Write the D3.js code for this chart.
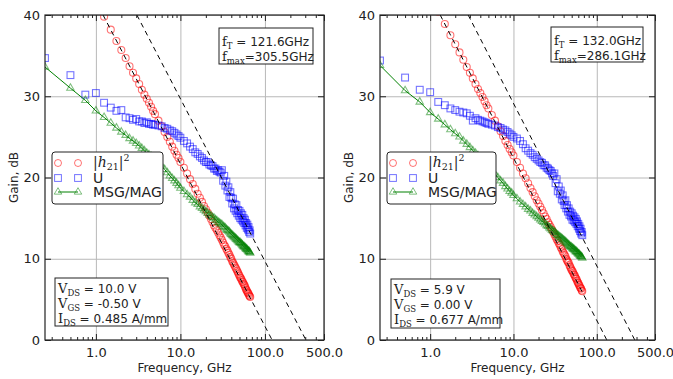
<!DOCTYPE html>
<html>
<head>
<meta charset="utf-8">
<script src="https://cdn.jsdelivr.net/npm/d3@7"></script>
<style>
  body { margin: 0; background: #fff; }
  svg { display: block; font-family: "DejaVu Sans", sans-serif; }
</style>
</head>
<body>
<svg id="chart" width="673" height="379"></svg>
<script>
// frequency sweep, GHz
const freq = [0.25, 0.5, 0.75, 1, 1.25, 1.5, 1.75, 2, 2.25, 2.5, 2.75, 3, 3.25, 3.5, 3.75, 4, 4.25, 4.5, 4.75, 5,
  5.5, 6, 6.5, 7, 7.5, 8, 8.5, 9, 9.5, 10,
  11, 12, 13, 14, 15, 16, 17, 18, 19, 20, 21, 22, 23, 24, 25, 26, 27, 28, 29, 30,
  31, 32, 33, 34, 35, 36, 37, 38, 39, 40, 41, 42, 43, 44, 45, 46, 47, 48, 49, 50,
  51, 52, 53, 54, 55, 56, 57, 58, 59, 60, 61, 62, 63, 64, 65, 66, 67];

// left device (VDS 10 V)
const leftH21 = [null, null, null, null, 39.8, 38.2, 36.8, 35.7, 34.7, 33.7, 32.9, 32.2, 31.5, 30.8, 30.2, 29.7, 29.2, 28.7, 28.2, 27.8,
  27.0, 26.3, 25.6, 25.0, 24.4, 23.8, 23.3, 22.8, 22.4, 21.9,
  21.2, 20.5, 19.8, 19.2, 18.6, 18.0, 17.5, 17.0, 16.5, 16.1, 15.7, 15.3, 14.9, 14.5, 14.1, 13.8, 13.5, 13.2, 12.9, 12.6,
  12.3, 12.0, 11.7, 11.5, 11.2, 11.0, 10.7, 10.5, 10.2, 10.0, 9.7, 9.5, 9.3, 9.1, 8.9, 8.7, 8.5, 8.3, 8.1, 7.9,
  7.7, 7.6, 7.4, 7.2, 7.1, 6.9, 6.8, 6.6, 6.4, 6.2, 6.1, 5.9, 5.8, 5.7, 5.5, 5.4, 5.3];
const leftU = [34.7, 32.6, 30.2, 30.4, 29.2, 28.6, 28.2, 28.3, 27.4, 27.3, 27.1, 27.2, 26.9, 26.9, 26.7, 26.8, 26.6, 26.6, 26.5, 26.5,
  26.4, 26.3, 26.1, 26.0, 25.8, 25.7, 25.5, 25.3, 25.1, 24.9,
  24.5, 24.2, 23.8, 23.5, 23.1, 22.9, 22.6, 22.4, 22.1, 21.9, 21.9, 21.6, 21.5, 21.4, 21.1, 21.1, 20.8, 20.9, 20.7, 20.6,
  20.9, 19.6, 20.2, 19.0, 19.5, 18.4, 18.8, 17.6, 18.2, 17.5, 16.8, 17.4, 16.2, 16.7, 15.9, 16.6, 15.6, 16.0, 15.3, 15.9,
  15.0, 15.6, 14.8, 15.4, 14.6, 15.0, 14.4, 14.8, 14.1, 14.4, 13.8, 14.2, 13.6, 13.9, 13.3, 13.5, 13.1];
const leftMSG = [33.6, 31.0, 29.5, 28.2, 27.4, 26.7, 26.1, 25.6, 25.2, 24.8, 24.5, 24.2, 23.9, 23.6, 23.3, 23.0, 22.8, 22.6, 22.4, 22.2,
  21.8, 21.4, 21.0, 20.6, 20.2, 19.9, 19.6, 19.3, 19.0, 18.7,
  18.3, 17.9, 17.6, 17.2, 16.9, 16.7, 16.4, 16.2, 16.0, 15.8, 15.6, 15.4, 15.3, 15.1, 15.0, 14.8, 14.7, 14.5, 14.4, 14.3,
  14.2, 14.0, 13.9, 13.8, 13.6, 13.5, 13.4, 13.3, 13.1, 13.0, 12.9, 12.8, 12.7, 12.6, 12.5, 12.4, 12.3, 12.2, 12.1, 12.0,
  12.0, 11.9, 11.8, 11.7, 11.6, 11.5, 11.5, 11.4, 11.3, 11.2, 11.2, 11.1, 11.0, 10.9, 10.9, 10.8, 10.7];
const leftCutoff = [121.6, 305.5];           // fT, fmax
const leftBias = ['10.0 V', '-0.50 V', '0.485 A/mm'];

// right device (VDS 5.9 V)
const rightH21 = [null, null, null, null, 40.4, 38.9, 37.5, 36.4, 35.4, 34.5, 33.6, 32.9, 32.2, 31.5, 30.9, 30.4, 29.9, 29.4, 28.9, 28.5,
  27.7, 27.0, 26.3, 25.7, 25.1, 24.5, 24.0, 23.5, 23.1, 22.7,
  21.9, 21.2, 20.5, 19.9, 19.3, 18.7, 18.2, 17.7, 17.2, 16.8, 16.4, 16.0, 15.6, 15.2, 14.9, 14.5, 14.2, 13.9, 13.6, 13.3,
  13.0, 12.7, 12.4, 12.2, 11.9, 11.7, 11.4, 11.2, 10.9, 10.7, 10.5, 10.3, 10.0, 9.8, 9.6, 9.5, 9.2, 9.0, 8.8, 8.6,
  8.5, 8.3, 8.1, 8.0, 7.8, 7.6, 7.5, 7.3, 7.1, 7.0, 6.8, 6.7, 6.5, 6.4, 6.3, 6.1, 6.0];
const rightU = [34.4, 32.3, 30.8, 30.5, 29.3, 28.9, 28.5, 28.3, 28.1, 28.0, 27.9, 27.6, 27.0, 27.3, 27.1, 27.0, 26.9, 26.8, 26.7, 26.6,
  26.5, 26.4, 26.2, 26.1, 25.9, 25.8, 25.6, 25.4, 25.2, 25.0,
  24.8, 24.5, 24.1, 23.6, 23.3, 23.0, 22.8, 22.5, 22.3, 22.1, 21.9, 21.8, 21.5, 21.5, 21.2, 21.1, 20.9, 20.8, 20.5, 20.2,
  20.5, 19.3, 19.8, 18.3, 18.9, 18.0, 18.4, 17.3, 17.8, 17.1, 16.6, 17.2, 16.2, 16.6, 15.8, 16.2, 15.4, 15.8, 15.2, 15.6,
  14.8, 15.3, 14.7, 15.1, 14.5, 14.9, 14.3, 14.6, 14.0, 14.3, 13.7, 14.0, 13.4, 13.7, 13.1, 13.3, 12.9];
const rightMSG = [33.8, 30.7, 29.3, 28.0, 27.2, 26.5, 25.9, 25.4, 25.0, 24.5, 24.1, 23.7, 23.3, 23.0, 22.7, 22.4, 22.1, 21.8, 21.5, 21.3,
  20.9, 20.4, 20.0, 19.6, 19.3, 18.9, 18.6, 18.3, 18.1, 17.8,
  17.4, 17.0, 16.7, 16.4, 16.1, 15.9, 15.6, 15.4, 15.2, 15.0, 14.8, 14.6, 14.5, 14.3, 14.1, 14.0, 13.8, 13.7, 13.5, 13.4,
  13.3, 13.2, 13.0, 12.9, 12.8, 12.7, 12.6, 12.5, 12.4, 12.3, 12.2, 12.1, 12.0, 11.9, 11.8, 11.7, 11.6, 11.5, 11.5, 11.4,
  11.3, 11.2, 11.2, 11.1, 11.0, 10.9, 10.9, 10.8, 10.7, 10.6, 10.6, 10.5, 10.4, 10.3, 10.3, 10.2, 10.1];
const rightCutoff = [132.0, 286.1];
const rightBias = ['5.9 V', '0.00 V', '0.677 A/mm'];

const xTicks = [1, 10, 100, 500];
const xTickLabels = ['1.0', '10.0', '100.0', '500.0'];
const yTicks = [0, 10, 20, 30, 40];
const seriesLabels = ['U', 'MSG/MAG'];

const minorTicks = [];
[0.1, 1, 10, 100].forEach(d => {
  for (let k = 2; k <= 9; k++) {
    const v = d * k;
    if (v > 0.25 && v < 500 && v !== 1 && v !== 10 && v !== 100) minorTicks.push(v);
  }
});

const red = '#ff0000', blue = '#0000ff', green = '#008000';
const svg = d3.select('#chart');

function subText(g, x, y, main, sub, rest) {
  const t = g.append('text').attr('x', x).attr('y', y).attr('dy', '0.35em');
  t.append('tspan').attr('font-family', 'DejaVu Serif').attr('font-size', 13).text(main);
  t.append('tspan').attr('font-family', 'DejaVu Serif').attr('font-size', 8.5).attr('dy', 3).text(sub);
  t.append('tspan').attr('font-size', 12).attr('dy', -3).text(rest);
}

function drawPanel(p) {
  const w = p.x1 - p.x0, h = p.y1 - p.y0;
  const g = svg.append('g').attr('transform', `translate(${p.x0},${p.y0})`);

  const x = d3.scaleLog().domain([0.25, 500]).range([0, w]);
  const y = d3.scaleLinear().domain([0, 40]).range([h, 0]);

  // grid
  g.append('g').attr('transform', `translate(0,${h})`)
    .call(d3.axisBottom(x).tickValues(xTicks).tickSize(-h).tickFormat(''))
    .call(a => a.select('.domain').remove())
    .selectAll('line').attr('stroke', '#b8b8b8');
  g.append('g')
    .call(d3.axisLeft(y).tickValues(yTicks).tickSize(-w).tickFormat(''))
    .call(a => a.select('.domain').remove())
    .selectAll('line').attr('stroke', '#b8b8b8');

  const clipId = 'clip' + p.id;
  g.append('clipPath').attr('id', clipId).append('rect').attr('width', w).attr('height', h);
  const plot = g.append('g').attr('clip-path', `url(#${clipId})`);

  const pts = vals => freq.map((f, i) => [f, vals[i]]).filter(d => d[1] != null);

  plot.append('g').selectAll('circle').data(pts(p.h21)).join('circle')
    .attr('cx', d => x(d[0])).attr('cy', d => y(d[1])).attr('r', 3.5)
    .attr('fill', 'none').attr('stroke', red).attr('stroke-opacity', 0.55).attr('stroke-width', 1.1);

  plot.append('g').selectAll('rect').data(pts(p.u)).join('rect')
    .attr('x', d => x(d[0]) - 3.4).attr('y', d => y(d[1]) - 3.4)
    .attr('width', 6.8).attr('height', 6.8)
    .attr('fill', 'none').attr('stroke', blue).attr('stroke-opacity', 0.55).attr('stroke-width', 1.1);

  plot.append('path').datum(pts(p.msg))
    .attr('d', d3.line().x(d => x(d[0])).y(d => y(d[1])))
    .attr('fill', 'none').attr('stroke', green).attr('stroke-width', 1);
  const tri = d3.symbol().type(d3.symbolTriangle).size(24);
  plot.append('g').selectAll('path').data(pts(p.msg)).join('path')
    .attr('d', tri).attr('transform', d => `translate(${x(d[0])},${y(d[1])})`)
    .attr('fill', 'none').attr('stroke', green).attr('stroke-opacity', 0.5).attr('stroke-width', 1.1);

  // -20 dB/dec extrapolations through fT and fmax
  p.cutoff.forEach(fc => {
    plot.append('path').datum([[fc / 100, 40], [fc, 0]])
      .attr('d', d3.line().x(d => x(d[0])).y(d => y(d[1])))
      .attr('fill', 'none').attr('stroke', '#000').attr('stroke-dasharray', '5,4');
  });

  // axes with inward ticks
  g.append('g').attr('transform', `translate(0,${h})`)
    .call(d3.axisBottom(x).tickValues(xTicks).tickSize(-6).tickSizeOuter(0).tickPadding(8)
      .tickFormat((d, i) => xTickLabels[i]));
  g.append('g').attr('transform', `translate(0,${h})`)
    .call(d3.axisBottom(x).tickValues(minorTicks).tickSize(-3).tickSizeOuter(0).tickFormat(''));
  g.append('g').call(d3.axisTop(x).tickValues(xTicks).tickSize(-6).tickSizeOuter(0).tickFormat(''));
  g.append('g').call(d3.axisTop(x).tickValues(minorTicks).tickSize(-3).tickSizeOuter(0).tickFormat(''));
  g.append('g')
    .call(d3.axisLeft(y).tickValues(yTicks).tickSize(-6).tickSizeOuter(0).tickPadding(5));
  g.append('g').attr('transform', `translate(${w},0)`)
    .call(d3.axisRight(y).tickValues(yTicks).tickSize(-6).tickSizeOuter(0).tickFormat(''));
  g.selectAll('.domain').remove();
  g.selectAll('.tick text').attr('font-size', 13).attr('font-family', 'DejaVu Sans').attr('fill', '#222');
  g.selectAll('.tick line').filter(function () { return this.getAttribute('stroke') === 'currentColor'; })
    .attr('stroke', '#222');

  g.append('rect').attr('width', w).attr('height', h)
    .attr('fill', 'none').attr('stroke', '#222').attr('stroke-width', 1.2);

  // axis titles
  svg.append('text').attr('x', (p.x0 + p.x1) / 2).attr('y', 372).attr('text-anchor', 'middle')
    .attr('font-size', 12).attr('fill', '#222').text('Frequency, GHz');
  svg.append('text').attr('transform', `translate(${p.yLabelX},${(p.y0 + p.y1) / 2}) rotate(-90)`)
    .attr('text-anchor', 'middle').attr('dy', '0.35em')
    .attr('font-size', 12).attr('fill', '#222').text('Gain, dB');

  // legend
  const L = p.legend;
  const lg = svg.append('g').attr('transform', `translate(${L.x},${L.y})`);
  lg.append('rect').attr('width', L.w).attr('height', L.h).attr('rx', 3)
    .attr('fill', '#fff').attr('stroke', '#222').attr('stroke-width', 1);
  const rows = [11, 26, 40];
  [6, 26].forEach(mx => {
    lg.append('circle').attr('cx', mx).attr('cy', rows[0]).attr('r', 3.5)
      .attr('fill', 'none').attr('stroke', red).attr('stroke-opacity', 0.55);
    lg.append('rect').attr('x', mx - 3.4).attr('y', rows[1] - 3.4).attr('width', 6.8).attr('height', 6.8)
      .attr('fill', 'none').attr('stroke', blue).attr('stroke-opacity', 0.55);
    lg.append('path').attr('d', tri).attr('transform', `translate(${mx},${rows[2]})`)
      .attr('fill', 'none').attr('stroke', green).attr('stroke-opacity', 0.5);
  });
  lg.append('line').attr('x1', 6).attr('x2', 26).attr('y1', rows[2]).attr('y2', rows[2])
    .attr('stroke', green);
  const ht = lg.append('text').attr('x', 41).attr('y', rows[0]).attr('dy', '0.3em')
    .attr('font-family', 'DejaVu Serif').attr('font-size', 14).attr('fill', '#222');
  ht.append('tspan').text('|');
  ht.append('tspan').attr('font-style', 'italic').text('h');
  ht.append('tspan').attr('font-size', 9.5).attr('dy', 3).text('21');
  ht.append('tspan').attr('dy', -3).text('|');
  ht.append('tspan').attr('font-size', 9.5).attr('dy', -6).text('2');
  seriesLabels.forEach((s, i) => {
    lg.append('text').attr('x', 41).attr('y', rows[i + 1]).attr('dy', '0.35em')
      .attr('font-size', 14).attr('fill', '#222').text(s);
  });

  // fT / fmax box
  const F = p.fBox;
  const fg = svg.append('g').attr('transform', `translate(${F.x},${F.y})`).attr('fill', '#222');
  fg.append('rect').attr('width', F.w).attr('height', F.h).attr('fill', '#fff').attr('stroke', '#222');
  subText(fg, 3, 12, 'f', 'T', ' = ' + p.cutoff[0].toFixed(1) + 'GHz');
  subText(fg, 3, 27, 'f', 'max', '=' + p.cutoff[1].toFixed(1) + 'GHz');

  // bias box
  const B = p.biasBox;
  const bg = svg.append('g').attr('transform', `translate(${B.x},${B.y})`).attr('fill', '#222');
  bg.append('rect').attr('width', B.w).attr('height', B.h).attr('fill', '#fff').attr('stroke', '#222');
  subText(bg, 3, 9, 'V', 'DS', ' = ' + p.bias[0]);
  subText(bg, 3, 24, 'V', 'GS', ' = ' + p.bias[1]);
  subText(bg, 3, 39, 'I', 'DS', ' = ' + p.bias[2]);
}

drawPanel({
  id: 'L', x0: 45, x1: 324, y0: 15, y1: 340, yLabelX: 14,
  h21: leftH21, u: leftU, msg: leftMSG, cutoff: leftCutoff, bias: leftBias,
  legend: { x: 52, y: 152, w: 111, h: 52 },
  fBox: { x: 219, y: 28, w: 94, h: 36 },
  biasBox: { x: 55, y: 278, w: 113, h: 48 }
});
drawPanel({
  id: 'R', x0: 380, x1: 655, y0: 15, y1: 340, yLabelX: 349,
  h21: rightH21, u: rightU, msg: rightMSG, cutoff: rightCutoff, bias: rightBias,
  legend: { x: 387, y: 152, w: 109, h: 52 },
  fBox: { x: 551, y: 27, w: 92, h: 35 },
  biasBox: { x: 391, y: 279, w: 109, h: 49 }
});
</script>
</body>
</html>
